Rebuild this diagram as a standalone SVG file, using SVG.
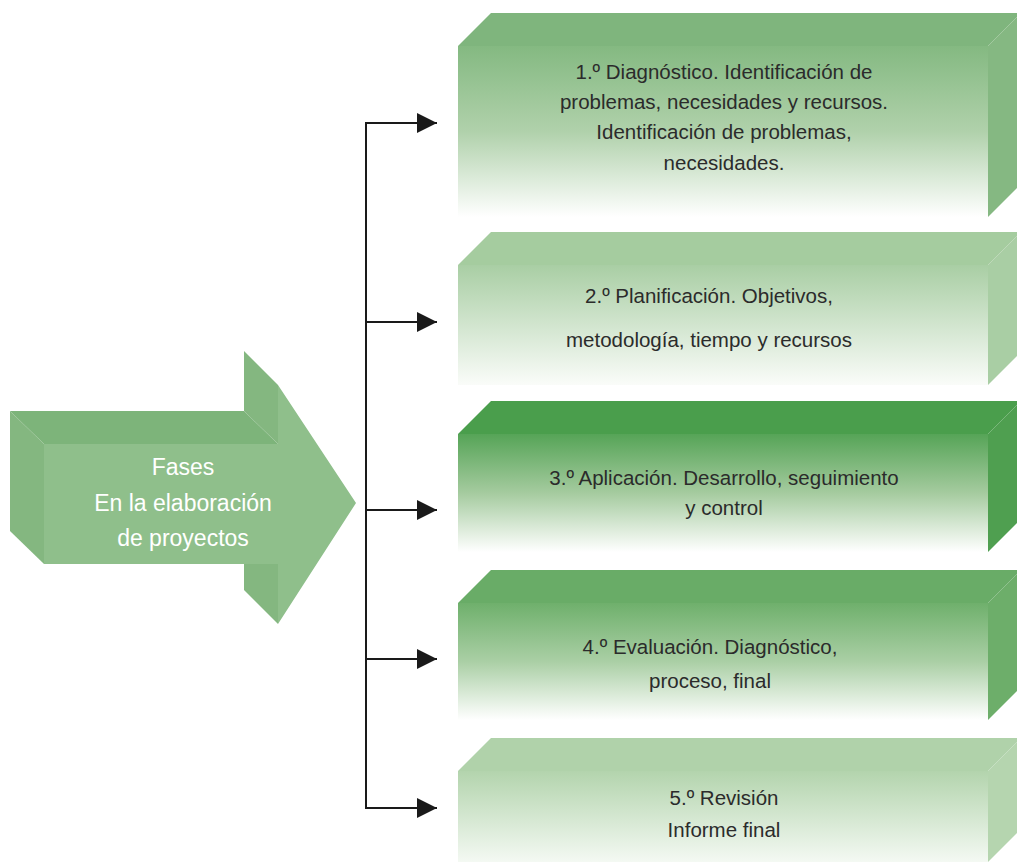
<svg xmlns="http://www.w3.org/2000/svg" width="1017" height="862" viewBox="0 0 1017 862">
<style>
.bt{font-family:"Liberation Sans",Arial,sans-serif;font-size:20.5px;fill:#2b2b2b;text-anchor:middle}
.at{font-family:"Liberation Sans",Arial,sans-serif;font-size:23px;fill:#ffffff;text-anchor:middle}
.conn{stroke:#1a1a1a;stroke-width:2;fill:none}
</style>
<defs>
<linearGradient id="g1" x1="0" y1="0" x2="0" y2="1"><stop offset="0" stop-color="#84b981"/><stop offset="0.5" stop-color="#b0d1ab"/><stop offset="1" stop-color="#ffffff"/></linearGradient>
<linearGradient id="g2" x1="0" y1="0" x2="0" y2="1"><stop offset="0" stop-color="#a9cea4"/><stop offset="1" stop-color="#fafcf9"/></linearGradient>
<linearGradient id="g3" x1="0" y1="0" x2="0" y2="1"><stop offset="0" stop-color="#56a457"/><stop offset="0.5" stop-color="#a5cb9f"/><stop offset="1" stop-color="#ffffff"/></linearGradient>
<linearGradient id="g4" x1="0" y1="0" x2="0" y2="1"><stop offset="0" stop-color="#6fb06c"/><stop offset="0.5" stop-color="#aacfa5"/><stop offset="1" stop-color="#ffffff"/></linearGradient>
<linearGradient id="g5" x1="0" y1="0" x2="0" y2="1"><stop offset="0" stop-color="#b3d4ad"/><stop offset="1" stop-color="#f4f9f3"/></linearGradient>
<marker id="ah" markerWidth="20" markerHeight="20" refX="20" refY="10" orient="auto" markerUnits="userSpaceOnUse"><path d="M0,0 L20,10 L0,20 Z" fill="#1a1a1a"/></marker>
</defs>

<g id="arrow-fases">
<polygon points="10,411 244,411 278,444 44,444" fill="#7db47a"/>
<polygon points="244,351 278,385 278,444 244,411" fill="#84b780"/>
<polygon points="10,411 44,444 44,564 10,531" fill="#84b780"/>
<polygon points="244,531 278,564 278,624 244,590" fill="#84b780"/>
<polygon points="44,444 278,444 278,385 356,503 278,624 278,564 44,564" fill="#8fbf8b"/>
<text class="at" x="183" y="475">Fases</text>
<text class="at" x="183" y="511">En la elaboración</text>
<text class="at" x="183" y="546">de proyectos</text>
</g>

<g id="box1">
<polygon points="458,46 491,13 1021,13 988,46" fill="#7fb57d"/>
<polygon points="988,46 1021,13 1021,184 988,217" fill="#85b882"/>
<rect x="458" y="46" width="530" height="171" fill="url(#g1)"/>
<text class="bt" x="724" y="79">1.º Diagnóstico. Identificación de</text>
<text class="bt" x="724" y="109">problemas, necesidades y recursos.</text>
<text class="bt" x="724" y="139">Identificación de problemas,</text>
<text class="bt" x="724" y="170">necesidades.</text>
</g>

<g id="box2">
<polygon points="458,265 491,232 1021,232 988,265" fill="#a5cc9f"/>
<polygon points="988,265 1021,232 1021,352 988,385" fill="#a9cea4"/>
<rect x="458" y="265" width="530" height="120" fill="url(#g2)"/>
<text class="bt" x="709" y="303">2.º Planificación. Objetivos,</text>
<text class="bt" x="709" y="347">metodología, tiempo y recursos</text>
</g>

<g id="box3">
<polygon points="458,434 491,401 1021,401 988,434" fill="#4a9e4c"/>
<polygon points="988,434 1021,401 1021,519 988,552" fill="#4f9f50"/>
<rect x="458" y="434" width="530" height="118" fill="url(#g3)"/>
<text class="bt" x="724" y="485">3.º Aplicación. Desarrollo, seguimiento</text>
<text class="bt" x="724" y="515">y control</text>
</g>

<g id="box4">
<polygon points="458,603 491,570 1021,570 988,603" fill="#69ac67"/>
<polygon points="988,603 1021,570 1021,687 988,720" fill="#6dae6a"/>
<rect x="458" y="603" width="530" height="117" fill="url(#g4)"/>
<text class="bt" x="710" y="654">4.º Evaluación. Diagnóstico,</text>
<text class="bt" x="710" y="688">proceso, final</text>
</g>

<g id="box5">
<polygon points="458,771 491,738 1021,738 988,771" fill="#b0d2aa"/>
<polygon points="988,771 1021,738 1021,829 988,862" fill="#b5d5af"/>
<rect x="458" y="771" width="530" height="91" fill="url(#g5)"/>
<text class="bt" x="724" y="805">5.º Revisión</text>
<text class="bt" x="724" y="837">Informe final</text>
</g>

<g id="connectors">
<line class="conn" x1="366" y1="122" x2="366" y2="809"/>
<line class="conn" x1="365" y1="123" x2="437" y2="123" marker-end="url(#ah)"/>
<line class="conn" x1="365" y1="322" x2="437" y2="322" marker-end="url(#ah)"/>
<line class="conn" x1="365" y1="510" x2="437" y2="510" marker-end="url(#ah)"/>
<line class="conn" x1="365" y1="659" x2="437" y2="659" marker-end="url(#ah)"/>
<line class="conn" x1="365" y1="808" x2="437" y2="808" marker-end="url(#ah)"/>
</g>
</svg>
